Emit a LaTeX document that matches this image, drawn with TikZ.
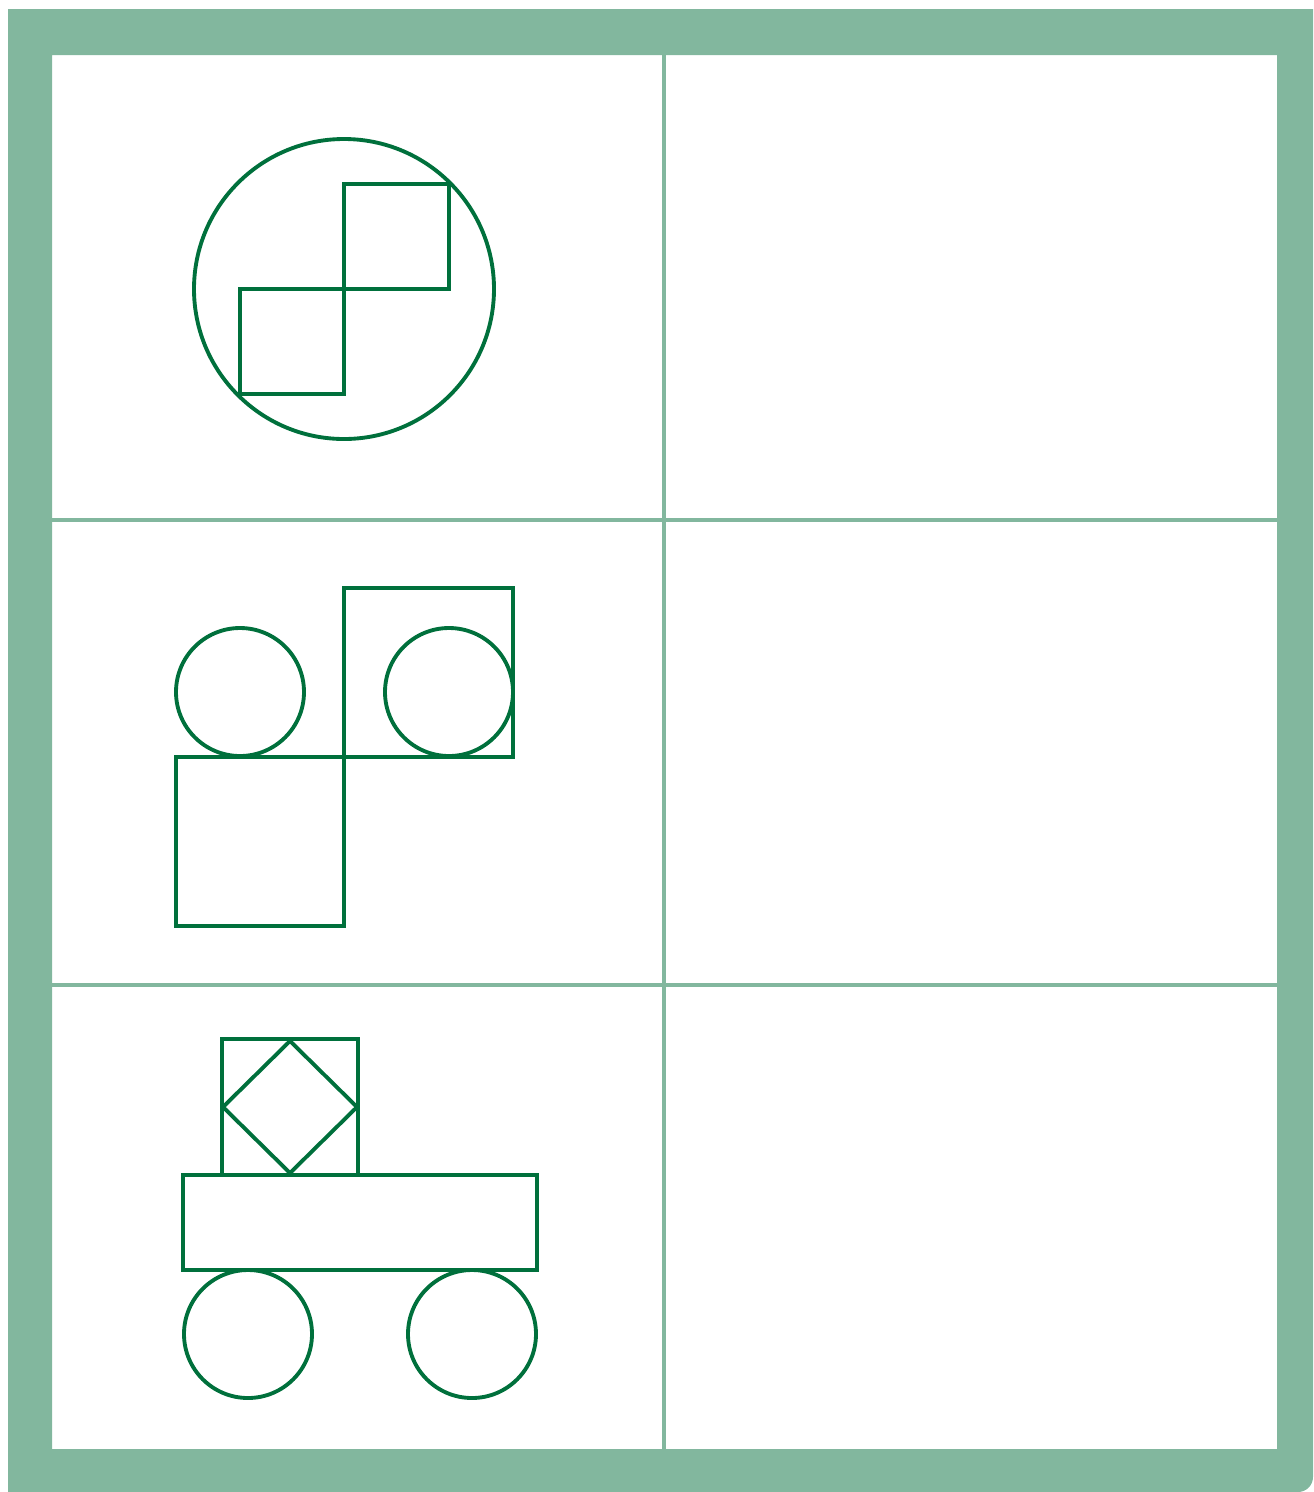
\documentclass[tikz,border=0pt]{standalone}
\usepackage{xcolor}
\usepackage{tikz}

\definecolor{paleGreen}{HTML}{82B79E}
\definecolor{darkGreen}{HTML}{00703C}

\begin{document}
\begin{tikzpicture}[x=0.02cm, y=-0.02cm,
  frame/.style={fill=paleGreen, even odd rule},
  gridline/.style={draw=paleGreen, line width=1.9pt},
  figline/.style={draw=darkGreen, line width=2.2pt}]
\useasboundingbox (0,0) rectangle (1313,1492);
% frame and table
\fill[frame] (8,9) -- (1313,9) -- (1313,1477)
  arc[start angle=0, end angle=90, radius=15] -- (8,1492) -- cycle
  (52,55) rectangle (1277,1449);
\coordinate (midtop) at (664,55);
\coordinate (midbot) at (664,1449);
\draw[gridline] (midtop) -- (midbot);
\draw[gridline] (52,520) -- (1277,520);
\draw[gridline] (52,985) -- (1277,985);
% row 1: circle with two squares
\draw[figline] (344,289) circle[radius=150];
\draw[figline] (344,184) rectangle (449,289);
\draw[figline] (240,289) rectangle (344,394);
% row 2: squares and circles
\draw[figline] (344,588) rectangle (513,757);
\draw[figline] (176,757) rectangle (344,926);
\draw[figline] (240,692) circle[radius=64];
\draw[figline] (449,692) circle[radius=64];
% row 3: cart
\draw[figline] (222,1039) rectangle (358,1175);
\draw[figline] (290,1041) -- (357,1107) -- (290,1173) -- (223,1107) -- cycle;
\draw[figline] (183,1175) rectangle (537,1270);
\draw[figline] (248,1334) circle[radius=64];
\draw[figline] (472,1334) circle[radius=64];
\end{tikzpicture}
\end{document}
